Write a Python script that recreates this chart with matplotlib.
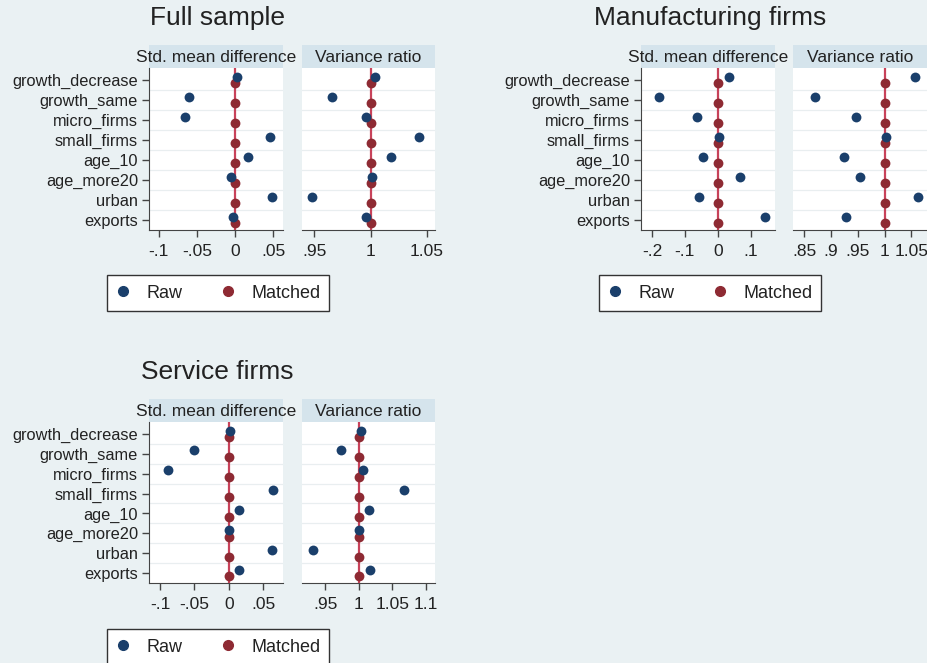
import numpy as np
import matplotlib.pyplot as plt
from matplotlib.lines import Line2D

plt.rcParams['font.family'] = ['Liberation Sans', 'DejaVu Sans']

variables = ["growth_decrease", "growth_same", "micro_firms", "small_firms",
             "age_10", "age_more20", "urban", "exports"]

# full sample
full_smd_raw = [0.003, -0.061, -0.066, 0.046, 0.017, -0.005, 0.048, -0.003]
full_smd_matched = [0.0, 0.0, 0.0, 0.0, 0.0, 0.0, 0.0, 0.0]
full_vr_raw = [1.004, 0.966, 0.996, 1.043, 1.018, 1.001, 0.948, 0.996]
full_vr_matched = [1.0, 1.0, 1.0, 1.0, 1.0, 1.0, 1.0, 1.0]

# manufacturing firms
manu_smd_raw = [0.035, -0.178, -0.062, 0.003, -0.046, 0.066, -0.056, 0.143]
manu_smd_matched = [0.0, 0.0, 0.0, 0.0, 0.0, 0.0, 0.0, 0.0]
manu_vr_raw = [1.056, 0.870, 0.947, 1.002, 0.925, 0.954, 1.062, 0.929]
manu_vr_matched = [1.0, 1.0, 1.0, 1.0, 1.0, 1.0, 1.0, 1.0]

# service firms
serv_smd_raw = [0.002, -0.050, -0.089, 0.065, 0.015, 0.000, 0.063, 0.015]
serv_smd_matched = [0.0, 0.0, 0.0, 0.0, 0.0, 0.0, 0.0, 0.0]
serv_vr_raw = [1.003, 0.973, 1.006, 1.068, 1.015, 1.000, 0.931, 1.017]
serv_vr_matched = [1.0, 1.0, 1.0, 1.0, 1.0, 1.0, 1.0, 1.0]

full_smd_ticks = [-0.1, -0.05, 0, 0.05]
full_smd_labels = ["-.1", "-.05", "0", ".05"]
full_vr_ticks = [0.95, 1, 1.05]
full_vr_labels = [".95", "1", "1.05"]
manu_smd_ticks = [-0.2, -0.1, 0, 0.1]
manu_smd_labels = ["-.2", "-.1", "0", ".1"]
manu_vr_ticks = [0.85, 0.9, 0.95, 1, 1.05]
manu_vr_labels = [".85", ".9", ".95", "1", "1.05"]
serv_smd_ticks = [-0.1, -0.05, 0, 0.05]
serv_smd_labels = ["-.1", "-.05", "0", ".05"]
serv_vr_ticks = [0.95, 1, 1.05, 1.1]
serv_vr_labels = [".95", "1", "1.05", "1.1"]

W, H = 928, 663
BG = "#eaf1f3"
STRIP = "#d5e4ec"
NAVY = "#1a3f6b"
MAROON = "#8e2a33"
REF = "#c8425a"
TXT = "#222222"

fig = plt.figure(figsize=(W / 100, H / 100), dpi=100)
fig.patch.set_facecolor(BG)


def add_px(x0, y0, x1, y1):
    return fig.add_axes([x0 / W, 1 - y1 / H, (x1 - x0) / W, (y1 - y0) / H])


def draw_panel(x0, y0, x1, y1, raw, matched, ref, xlim, ticks, labels, strip_text, show_y):
    strip = add_px(x0, y0 - 23, x1, y0)
    strip.set_facecolor(STRIP)
    strip.set_xticks([])
    strip.set_yticks([])
    for s in strip.spines.values():
        s.set_visible(False)
    strip.text(0.5, 0.45, strip_text, ha="center", va="center", fontsize=12.5,
               color=TXT, transform=strip.transAxes)

    ax = add_px(x0, y0, x1, y1)
    ax.set_facecolor("white")
    pos = np.arange(len(variables))
    for g in np.arange(0.5, len(variables) - 0.5, 1):
        ax.axhline(g, color="#e9eef0", lw=0.9, zorder=0)
    ax.axvline(ref, color=REF, lw=1.6, zorder=1)
    ax.scatter(matched, pos + 0.17, s=50, color=MAROON, zorder=3, linewidths=0)
    ax.scatter(raw, pos - 0.17, s=50, color=NAVY, zorder=3, linewidths=0)
    ax.set_ylim(7.5, -0.6)
    ax.set_xlim(*xlim)
    ax.set_xticks(ticks)
    ax.set_xticklabels(labels, fontsize=12.5, color=TXT)
    ax.spines["top"].set_visible(False)
    ax.spines["right"].set_visible(False)
    ax.spines["bottom"].set_color("#444444")
    ax.tick_params(axis="x", length=5, width=1, color="#444444", pad=5)
    if show_y:
        ax.set_yticks(pos)
        ax.set_yticklabels(variables, fontsize=11.8, color=TXT)
        ax.spines["left"].set_color("#444444")
        ax.tick_params(axis="y", length=5, width=1, color="#444444", pad=3)
    else:
        ax.set_yticks([])
        ax.spines["left"].set_visible(False)
    return ax


def add_legend(cx, cy):
    handles = [Line2D([], [], ls="", marker="o", ms=7, color=NAVY, mec=NAVY),
               Line2D([], [], ls="", marker="o", ms=7, color=MAROON, mec=MAROON)]
    leg = fig.legend(handles, ["Raw", "Matched"], loc="center", ncol=2,
                     bbox_to_anchor=(cx / W, 1 - cy / H), fontsize=13,
                     frameon=True, fancybox=False, edgecolor="#333333",
                     facecolor="white", framealpha=1, handlelength=0.8,
                     handletextpad=0.9, columnspacing=2.1, borderpad=0.5)
    leg.get_frame().set_linewidth(1.0)
    for t in leg.get_texts():
        t.set_color(TXT)


# Full sample
fig.text(218 / W, 1 - 18 / H, "Full sample", ha="center", va="center", fontsize=19, color=TXT)
draw_panel(149, 68, 283, 230, full_smd_raw, full_smd_matched, 0, (-0.113, 0.063),
           full_smd_ticks, full_smd_labels, "Std. mean difference", True)
draw_panel(302, 68, 435, 230, full_vr_raw, full_vr_matched, 1, (0.939, 1.057),
           full_vr_ticks, full_vr_labels, "Variance ratio", False)
add_legend(218, 293)

# Manufacturing firms
fig.text(710 / W, 1 - 18 / H, "Manufacturing firms", ha="center", va="center", fontsize=19, color=TXT)
draw_panel(641, 68, 775, 230, manu_smd_raw, manu_smd_matched, 0, (-0.233, 0.173),
           manu_smd_ticks, manu_smd_labels, "Std. mean difference", True)
draw_panel(793, 68, 928, 230, manu_vr_raw, manu_vr_matched, 1, (0.8295, 1.081),
           manu_vr_ticks, manu_vr_labels, "Variance ratio", False)
add_legend(710, 293)

# Service firms
fig.text(217 / W, 1 - 372 / H, "Service firms", ha="center", va="center", fontsize=19, color=TXT)
draw_panel(149, 422, 283, 583, serv_smd_raw, serv_smd_matched, 0, (-0.116, 0.079),
           serv_smd_ticks, serv_smd_labels, "Std. mean difference", True)
draw_panel(302, 422, 435, 583, serv_vr_raw, serv_vr_matched, 1, (0.915, 1.114),
           serv_vr_ticks, serv_vr_labels, "Variance ratio", False)
add_legend(218, 647)

fig.savefig("out.png", dpi=100, facecolor=BG)
